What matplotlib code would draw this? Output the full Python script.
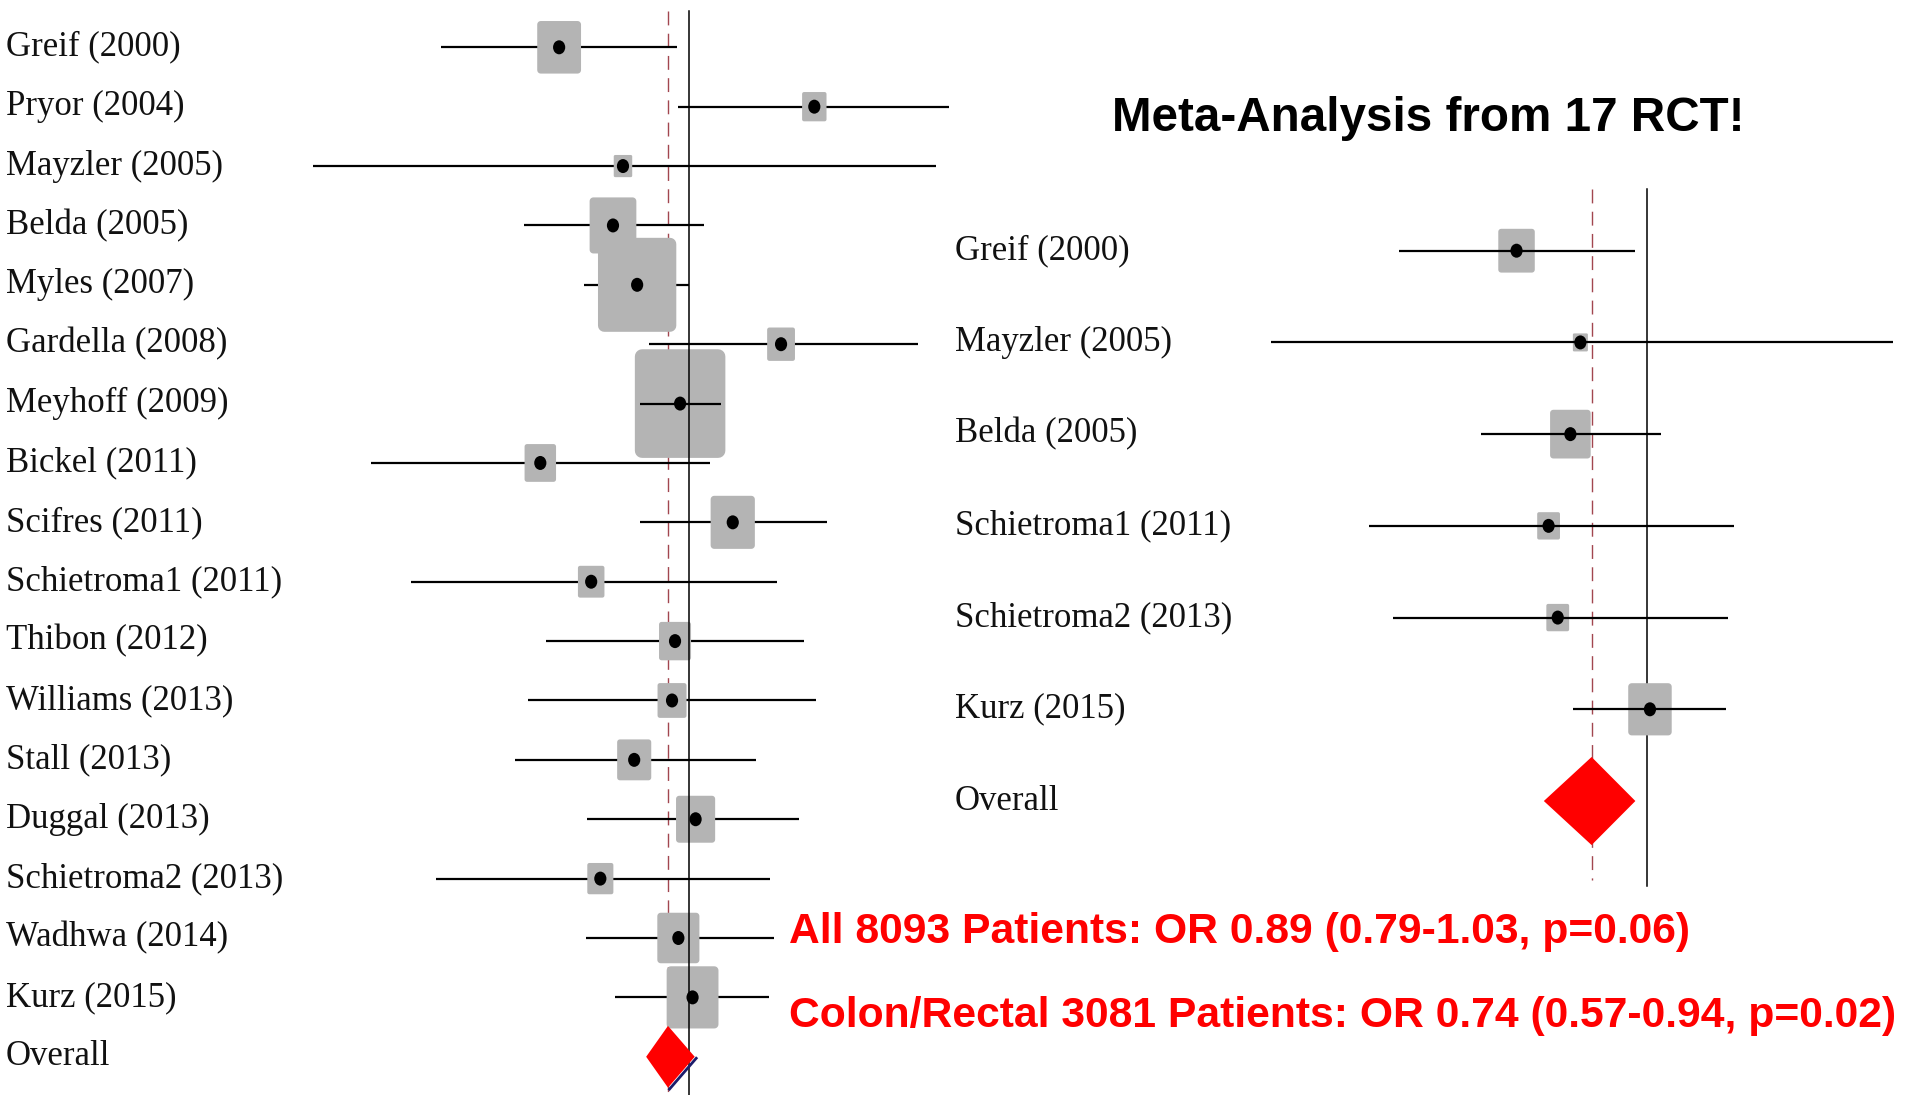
import numpy as np
import matplotlib
matplotlib.use("Agg")
import matplotlib.pyplot as plt
from matplotlib.path import Path
from matplotlib.patches import Polygon
from matplotlib.transforms import Affine2D, blended_transform_factory, offset_copy

# --- study data (odds ratio with 95% CI, weight in %) ---
studies = ["Greif (2000)", "Pryor (2004)", "Mayzler (2005)", "Belda (2005)", "Myles (2007)",
           "Gardella (2008)", "Meyhoff (2009)", "Bickel (2011)", "Scifres (2011)",
           "Schietroma1 (2011)", "Thibon (2012)", "Williams (2013)", "Stall (2013)",
           "Duggal (2013)", "Schietroma2 (2013)", "Wadhwa (2014)", "Kurz (2015)"]
odds_ratio = [0.491, 1.980, 0.696, 0.659, 0.752, 1.651, 0.951, 0.443, 1.268,
              0.585, 0.925, 0.910, 0.740, 1.035, 0.615, 0.942, 1.018]
ci_low = [0.258, 0.942, 0.128, 0.405, 0.564, 0.802, 0.764, 0.176, 0.764,
          0.219, 0.458, 0.414, 0.385, 0.573, 0.250, 0.568, 0.668]
ci_high = [0.937, 4.134, 3.840, 1.082, 1.000, 3.480, 1.188, 1.117, 2.122,
           1.611, 1.870, 1.994, 1.438, 1.823, 1.556, 1.592, 1.543]
weight_all = [5.73, 1.78, 1.02, 6.52, 18.32, 2.31, 24.47, 2.96, 5.84,
              2.10, 3.06, 2.51, 3.47, 4.57, 2.03, 5.29, 8.02]

# colorectal subgroup
colorectal = ["Greif (2000)", "Mayzler (2005)", "Belda (2005)",
              "Schietroma1 (2011)", "Schietroma2 (2013)", "Kurz (2015)"]
weight_colorectal = [21.70, 3.67, 26.85, 8.47, 8.47, 30.83]

# pooled results: (OR, lower, upper)
pooled_all = (0.89, 0.79, 1.03)
pooled_colorectal = (0.74, 0.57, 0.94)
n_all, p_all = 8093, 0.06
n_colorectal, p_colorectal = 3081, 0.02

# --- layout (pixels) ---
W, H = 1911, 1095
PX_PER_LN = 183.0
BOX_GRAY = "#b4b4b4"
DASH_RED = "#a2464f"
SERIF = ["Liberation Serif", "DejaVu Serif"]
SANS = ["Liberation Sans", "DejaVu Sans"]

fig = plt.figure(figsize=(W / 100, H / 100), dpi=100)
fig.patch.set_facecolor("white")


def rounded_rect(hw=0.5, hh=0.6, r=0.08, n=6):
    # closed outline of a box with slightly rounded corners
    pts = []
    for cx, cy, a0 in [(hw - r, hh - r, 0), (-hw + r, hh - r, 90),
                       (-hw + r, -hh + r, 180), (hw - r, -hh + r, 270)]:
        for a in np.radians(np.linspace(a0, a0 + 90, n)):
            pts.append((cx + r * np.cos(a), cy + r * np.sin(a)))
    pts.append(pts[0])
    return pts


box_marker = rounded_rect()
dot_marker = Path.unit_circle().transformed(Affine2D().scale(1.0, 1.15))


def px_axes(x0, y0, x1, y1, x_null, row0, row_step):
    # axes placed by pixel box; x is log OR, y counts study rows from the top
    ax = fig.add_axes([x0 / W, 1 - y1 / H, (x1 - x0) / W, (y1 - y0) / H])
    ax.set_xscale("log")
    ax.set_xlim(np.exp((x0 - x_null) / PX_PER_LN), np.exp((x1 - x_null) / PX_PER_LN))
    ax.set_ylim((y1 - row0) / row_step, (y0 - row0) / row_step)
    ax.axis("off")
    return ax


def forest(ax, names, est, lo, hi, w, pooled, box_px, row0, row_step,
           label_x, line_top, line_bottom, dash_bottom, ci_over_box, diamond_h):
    est, lo, hi = np.array(est), np.array(lo), np.array(hi)
    rows = np.arange(len(names))
    width_px = box_px * np.sqrt(np.array(w))
    to_row = lambda ypx: (ypx - row0) / row_step

    # reference lines
    solid_z, dash_z = (3.5, 1) if not ci_over_box else (1, 3.5)
    ax.plot([1, 1], [to_row(line_top), to_row(line_bottom)], color="black", lw=1.1, zorder=solid_z)
    ax.plot([pooled[0]] * 2, [to_row(line_top), to_row(dash_bottom)], color=DASH_RED, lw=1.0,
            dashes=(10, 6), zorder=dash_z)

    # confidence intervals
    half_ln = width_px / 2 / PX_PER_LN
    for i in rows:
        inside = (np.log(est[i] / lo[i]) <= half_ln[i]) and (np.log(hi[i] / est[i]) <= half_ln[i])
        z = 4 if (ci_over_box or inside) else 2
        ax.plot([lo[i], hi[i]], [i, i], color="black", lw=1.6, zorder=z, solid_capstyle="butt")

    # weight boxes and point estimates
    ax.scatter(est, rows, marker=box_marker, s=(1.2 * width_px * 0.72) ** 2,
               color=BOX_GRAY, edgecolors="none", zorder=3)
    ax.scatter(est, rows, marker=dot_marker, s=(14 * 0.72) ** 2, color="black",
               edgecolors="none", zorder=5)

    # pooled diamond
    yd = len(names)
    diamond = [(pooled[1], yd), (pooled[0], yd - diamond_h), (pooled[2], yd), (pooled[0], yd + diamond_h)]
    ax.add_patch(Polygon(diamond, closed=True, facecolor="#ff0000", edgecolor="none", zorder=6))

    # study labels
    tr = blended_transform_factory(fig.transFigure, ax.transData)
    for i, name in enumerate(list(names) + ["Overall"]):
        ax.text(label_x / W, i, name, transform=tr, ha="left", va="center",
                family=SERIF, fontsize=25, color="#111111")
    return diamond


# all trials
ax_all = px_axes(300, 0, 960, H, x_null=689.3, row0=47.3, row_step=59.38)
d = forest(ax_all, studies, odds_ratio, ci_low, ci_high, weight_all, pooled_all,
           box_px=18.3, row0=47.3, row_step=59.38, label_x=6,
           line_top=10.7, line_bottom=H, dash_bottom=H, ci_over_box=False, diamond_h=0.52)
# dark edge under the lower right side of the diamond
shade = offset_copy(ax_all.transData, fig=fig, x=1.5, y=-1.5, units="dots")
ax_all.plot([d[2][0], d[3][0]], [d[2][1], d[3][1]], color="#1c1c6b", lw=2.0, transform=shade, zorder=5.5)

# colorectal subgroup
idx = [studies.index(s) for s in colorectal]
ax_cr = px_axes(1262, 180, W, 900, x_null=1646.7, row0=250.7, row_step=91.72)
forest(ax_cr, colorectal, [odds_ratio[i] for i in idx], [ci_low[i] for i in idx],
       [ci_high[i] for i in idx], weight_colorectal, pooled_colorectal,
       box_px=7.834, row0=250.7, row_step=91.72, label_x=955,
       line_top=189.3, line_bottom=885.7, dash_bottom=880,
       ci_over_box=True, diamond_h=0.48)

# headline and pooled summaries
fig.text(1112 / W, 1 - 131 / H, f"Meta-Analysis from {len(studies)} RCT!", ha="left",
         va="baseline", family=SANS, fontweight="bold", fontsize=34.3, color="black")
fig.text(789 / W, 1 - 943 / H,
         f"All {n_all} Patients: OR {pooled_all[0]:.2f} ({pooled_all[1]:.2f}-{pooled_all[2]:.2f}, p={p_all:.2f})",
         ha="left", va="baseline", family=SANS, fontweight="bold", fontsize=30.7, color="#ff0000")
fig.text(789 / W, 1 - 1027 / H,
         f"Colon/Rectal {n_colorectal} Patients: OR {pooled_colorectal[0]:.2f} "
         f"({pooled_colorectal[1]:.2f}-{pooled_colorectal[2]:.2f}, p={p_colorectal:.2f})",
         ha="left", va="baseline", family=SANS, fontweight="bold", fontsize=30.7, color="#ff0000")

fig.savefig("out.png", dpi=100)
